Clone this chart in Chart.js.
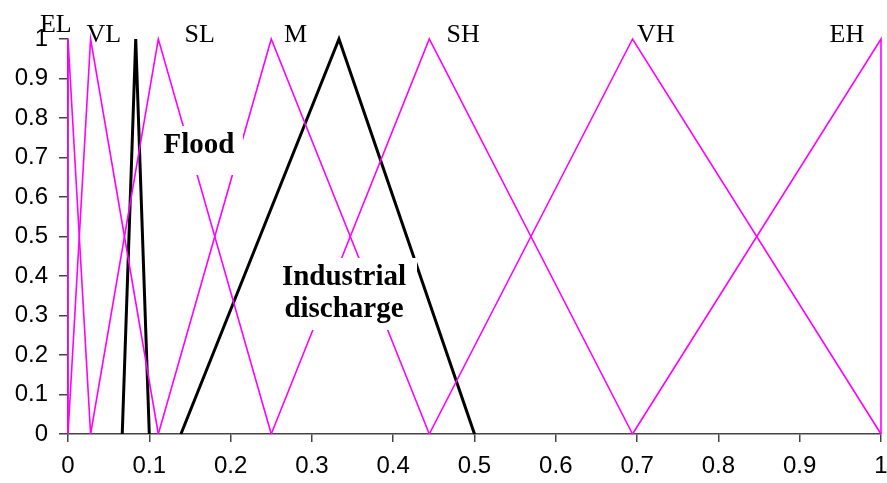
<!DOCTYPE html>
<html>
<head>
<meta charset="utf-8">
<script src="https://cdn.jsdelivr.net/npm/chart.js@4/dist/chart.umd.min.js"></script>
<style>
  html, body { margin: 0; padding: 0; background: #fff; overflow: hidden; }
  #wrap { width: 887px; height: 483px; }
</style>
</head>
<body>
<div id="wrap"><canvas id="myChart"></canvas></div>
<script>
// fuzzy sets (magenta): name and peak position
const setNames = ['EL', 'VL', 'SL', 'M', 'SH', 'VH', 'EH'];
const setPeaks = [0, 0.0278, 0.1111, 0.25, 0.4444, 0.6944, 1];

// black triangles
const floodX = [0.0667, 0.0833, 0.1];
const floodY = [0, 1, 0];
const industrialX = [0.1389, 0.3333, 0.5];
const industrialY = [0, 1, 0];

const tickValues = [0, 0.1, 0.2, 0.3, 0.4, 0.5, 0.6, 0.7, 0.8, 0.9, 1];
const tickLabels = ['0', '0.1', '0.2', '0.3', '0.4', '0.5', '0.6', '0.7', '0.8', '0.9', '1'];

// label anchors in data units
const setLabelX = [-0.015, 0.044, 0.162, 0.28, 0.486, 0.723, 0.958];
const setLabelY = [1.035, 1.01, 1.01, 1.01, 1.01, 1.01, 1.01];

const magenta = '#ff00ff';

function pts(xs, ys) {
    return xs.map((x, i) => ({ x: x, y: ys[i] }));
}

const datasets = [];
for (let i = 0; i < setPeaks.length; i++) {
    const l = i > 0 ? setPeaks[i - 1] : setPeaks[i];
    const r = i < setPeaks.length - 1 ? setPeaks[i + 1] : setPeaks[i];
    datasets.push({
        label: setNames[i],
        data: pts([l, setPeaks[i], r], [0, 1, 0]),
        borderColor: magenta,
        borderWidth: 1.6,
        pointRadius: 0,
        fill: false,
        tension: 0,
        clip: false
    });
}
datasets.push({
    label: 'Flood',
    data: pts(floodX, floodY),
    borderColor: '#000',
    borderWidth: 3,
    pointRadius: 0,
    clip: false
});
datasets.push({
    label: 'Industrial discharge',
    data: pts(industrialX, industrialY),
    borderColor: '#000',
    borderWidth: 3,
    pointRadius: 0,
    clip: false
});

const labelPlugin = {
    id: 'labels',
    afterDatasetsDraw(chart) {
        const ctx = chart.ctx;
        const xs = chart.scales.x, ys = chart.scales.y;
        ctx.save();
        // white boxes behind the bold labels
        ctx.fillStyle = '#fff';
        ctx.fillRect(155, 126, 88, 49);
        ctx.fillRect(276, 258, 141, 72);

        ctx.fillStyle = '#000';
        ctx.textAlign = 'center';
        ctx.textBaseline = 'middle';
        ctx.font = '26px "Liberation Serif", "Times New Roman", serif';
        setNames.forEach((n, i) => {
            ctx.fillText(n, xs.getPixelForValue(setLabelX[i]), ys.getPixelForValue(setLabelY[i]));
        });
        ctx.font = 'bold 29px "Liberation Serif", "Times New Roman", serif';
        ctx.fillText('Flood', 199, 146);
        ctx.fillText('Industrial', 344, 278);
        ctx.fillText('discharge', 344, 310);
        ctx.restore();
    }
};

const axisFont = { family: '"Liberation Sans", Arial, sans-serif', size: 24 };

var ctx = document.getElementById('myChart').getContext('2d');
var myChart = new Chart(ctx, {
    type: 'line',
    data: { datasets: datasets },
    options: {
        responsive: true,
        maintainAspectRatio: false,
        animation: false,
        layout: { padding: { top: 39, right: 0, left: 0, bottom: 0 } },
        plugins: {
            legend: { display: false },
            tooltip: { enabled: false }
        },
        scales: {
            x: {
                type: 'linear',
                min: 0,
                max: 1,
                afterBuildTicks: s => { s.ticks = tickValues.map(v => ({ value: v })); },
                afterFit: s => { s.height = 49; s.paddingRight = 6; s.paddingLeft = 0; },
                ticks: {
                    color: '#000',
                    font: axisFont,
                    padding: 10,
                    maxRotation: 0,
                    autoSkip: false,
                    callback: (v, i) => tickLabels[i]
                },
                grid: { drawOnChartArea: false, drawTicks: true, tickLength: 8, color: '#444', lineWidth: 1.5 },
                border: { display: true, color: '#444', width: 1.5 }
            },
            y: {
                type: 'linear',
                min: 0,
                max: 1,
                afterBuildTicks: s => { s.ticks = tickValues.map(v => ({ value: v })); },
                afterFit: s => { s.width = 68; s.paddingTop = 0; s.paddingBottom = 0; },
                ticks: {
                    color: '#000',
                    font: axisFont,
                    padding: 11,
                    autoSkip: false,
                    callback: (v, i) => tickLabels[i]
                },
                grid: { drawOnChartArea: false, drawTicks: true, tickLength: 9, color: '#444', lineWidth: 1.5 },
                border: { display: true, color: '#444', width: 1.5 }
            }
        }
    },
    plugins: [labelPlugin]
});
</script>
</body>
</html>
